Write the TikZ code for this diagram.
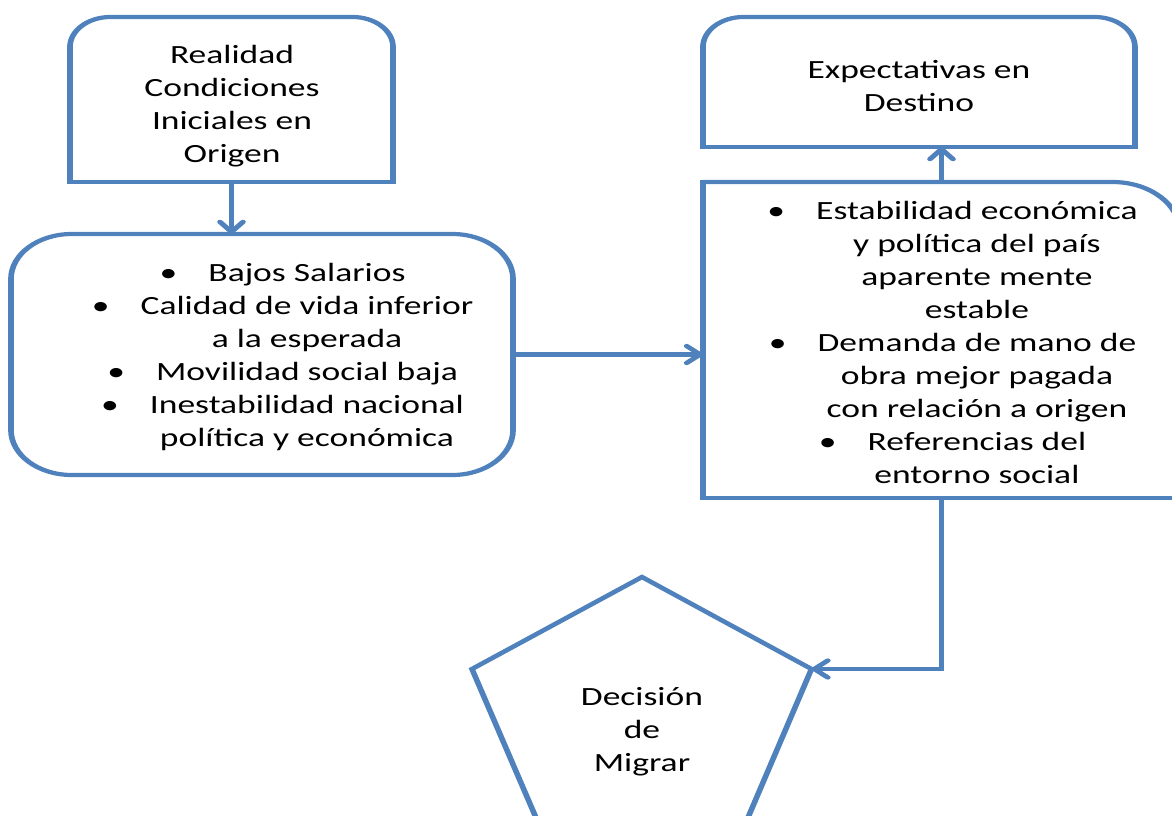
\documentclass[tikz,border=0pt]{standalone}
\usepackage{fontspec}
\setmainfont{Carlito}
\usetikzlibrary{arrows.meta}
\definecolor{lineblue}{HTML}{4F81BD}
\newcommand{\bul}{\llap{\makebox[0pt]{\textbullet}\hspace{29.6pt}}}
\begin{document}
\begin{tikzpicture}[x=1pt,y=-1pt,
  frame/.style={inner sep=0pt, outer sep=0pt},
  edge/.style={draw=lineblue, line width=4.2pt},
  arr/.style={edge, -{Straight Barb[length=10pt,width=17pt,round]}},
  txt/.style={align=center, font=\fontsize{26.3}{33}\selectfont, text=black, inner sep=0pt}]
\useasboundingbox[fill=white] (0,0) rectangle (1172,816);
\begin{scope}[transform canvas={xscale=1.35}, x=0.7407pt, y=-1pt]
% frames
\node[frame, minimum width=239.3pt, minimum height=165pt] (A) at (231.5,99.5) {};
\node[frame, edge, rounded corners=45pt, minimum width=371.9pt, minimum height=241pt] (B) at (262,354.5) {};
\node[frame, minimum width=320pt, minimum height=130pt] (C) at (919,82) {};
\node[frame, minimum width=353.3pt, minimum height=316pt] (D) at (941.5,340) {};

% box A: rounded top corners
\draw[edge, rounded corners=30pt] (A.south west) -- (A.north west) -- (A.north east) -- (A.south east);
\draw[edge, line cap=rect] (A.south west) -- (A.south east);
% box C
\draw[edge, rounded corners=30pt] (C.south west) -- (C.north west) -- (C.north east) -- (C.south east);
\draw[edge, line cap=rect] (C.south west) -- (C.south east);
% box D: rounded top-right corner
\draw[edge, rounded corners=50pt] (D.north west) -- (D.north east) -- (D.south east);
\draw[edge, line cap=rect] (D.south east) -- (D.south west) -- (D.north west);

% pentagon
\coordinate (p1) at (642,577);
\coordinate (p2) at (811.5,669);
\coordinate (p3) at (747,820);
\coordinate (p4) at (537,820);
\coordinate (p5) at (472,669);
\draw[edge, line join=miter] (p1) -- (p2) -- (p3) -- (p4) -- (p5) -- cycle;

% texts
\node[txt] (tA) at (232,106) {Realidad\\Condiciones\\Iniciales en\\Origen};
\node[txt] (tC) at (919,86) {Expectativas en\\Destino};
\node[txt] (tB) at (307,357) {\bul Bajos Salarios\\\bul Calidad de vida inferior\\a la esperada\\\bul Movilidad social baja\\\bul Inestabilidad nacional\\política y económica};
\node[txt] (tD) at (977,342.5) {\bul Estabilidad económica\\y política del país\\aparente mente\\estable\\\bul Demanda de mano de\\obra mejor pagada\\con relación a origen\\\bul Referencias del\\entorno social};
\node[txt] (E) at (642,732) {Decisión\\de\\Migrar};

% connectors
\draw[arr] (A.south) -- (A.south |- B.north);
\draw[arr] (B.east) -- (B.east -| D.west);
\draw[arr] (D.north) -- (D.north |- C.south);
\draw[arr] (D.south) |- (p2);
\end{scope}
\end{tikzpicture}
\end{document}
